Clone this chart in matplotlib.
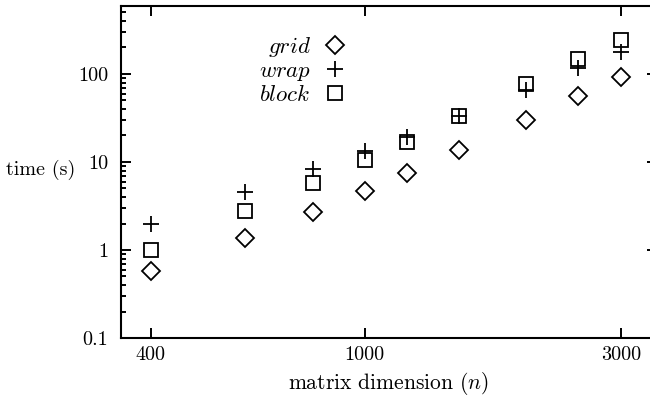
import numpy as np
import matplotlib
matplotlib.use('Agg')
import matplotlib.pyplot as plt
from matplotlib import ticker

plt.rcParams['font.family'] = ['cmr10', 'DejaVu Serif']
plt.rcParams['mathtext.fontset'] = 'cm'
plt.rcParams['axes.formatter.use_mathtext'] = True

# matrix dimension n and run times (s)
n = [400, 600, 800, 1000, 1200, 1500, 2000, 2500, 3000]
grid_t = [0.57, 1.38, 2.7, 4.7, 7.5, 13.6, 30, 56, 93]
wrap_t = [2.0, 4.6, 8.4, 13.3, 19, 33, 65, 116, 176]
block_t = [1.0, 2.77, 5.8, 10.5, 16.9, 33, 77, 147, 243]

x_ticks = [400, 1000, 3000]
y_ticks = [0.1, 1, 10, 100]
y_ticklabels = ['0.1', '1', '10', '100']

fig = plt.figure(figsize=(6.5, 3.97), dpi=100)
ax = fig.add_axes([121 / 650, 1 - 338 / 397, 536 / 650, 332.5 / 397])

mk = dict(ls='', mfc='none', mec='black', color='black', mew=1.3)
ax.plot(n, grid_t, marker='D', ms=9.2, label=r'$\mathit{grid}$', **mk)
ax.plot(n, wrap_t, marker='+', ms=11.5, label=r'$\mathit{wrap}$', **mk)
ax.plot(n, block_t, marker='s', ms=10.4, label=r'$\mathit{block}$', **mk)

ax.set_xscale('log')
ax.set_yscale('log')
ax.set_xlim(352, 3500)
ax.set_ylim(0.1, 600)

ax.xaxis.set_major_locator(ticker.FixedLocator(x_ticks))
ax.xaxis.set_major_formatter(ticker.FixedFormatter([str(v) for v in x_ticks]))
ax.xaxis.set_minor_locator(ticker.NullLocator())
ax.yaxis.set_major_locator(ticker.FixedLocator(y_ticks))
ax.yaxis.set_major_formatter(ticker.FixedFormatter(y_ticklabels))
ax.yaxis.set_minor_locator(ticker.LogLocator(base=10, subs=np.arange(2, 10)))
ax.yaxis.set_minor_formatter(ticker.NullFormatter())

ax.tick_params(which='both', direction='in', top=True, right=True,
               labelsize=14.5, width=1.4)
ax.tick_params(axis='x', which='major', length=7.2, pad=6)
ax.tick_params(axis='y', which='major', length=7.2, pad=9)
ax.tick_params(axis='y', which='minor', length=3.6)
for s in ax.spines.values():
    s.set_linewidth(1.5)

ax.set_xlabel(r'matrix dimension ($n$)', fontsize=15.5, labelpad=4)
ax.set_ylabel('time (s)', fontsize=14.5, rotation=0, ha='right', va='center')
ax.yaxis.set_label_coords(-0.086, 0.505)

ax.legend(loc='upper right', bbox_to_anchor=(0.418, 0.91), frameon=False,
          markerfirst=False, fontsize=16.5, handlelength=0.9,
          handletextpad=0.6, labelspacing=0.06, borderpad=0, borderaxespad=0)

fig.savefig('out.png', dpi=100)
